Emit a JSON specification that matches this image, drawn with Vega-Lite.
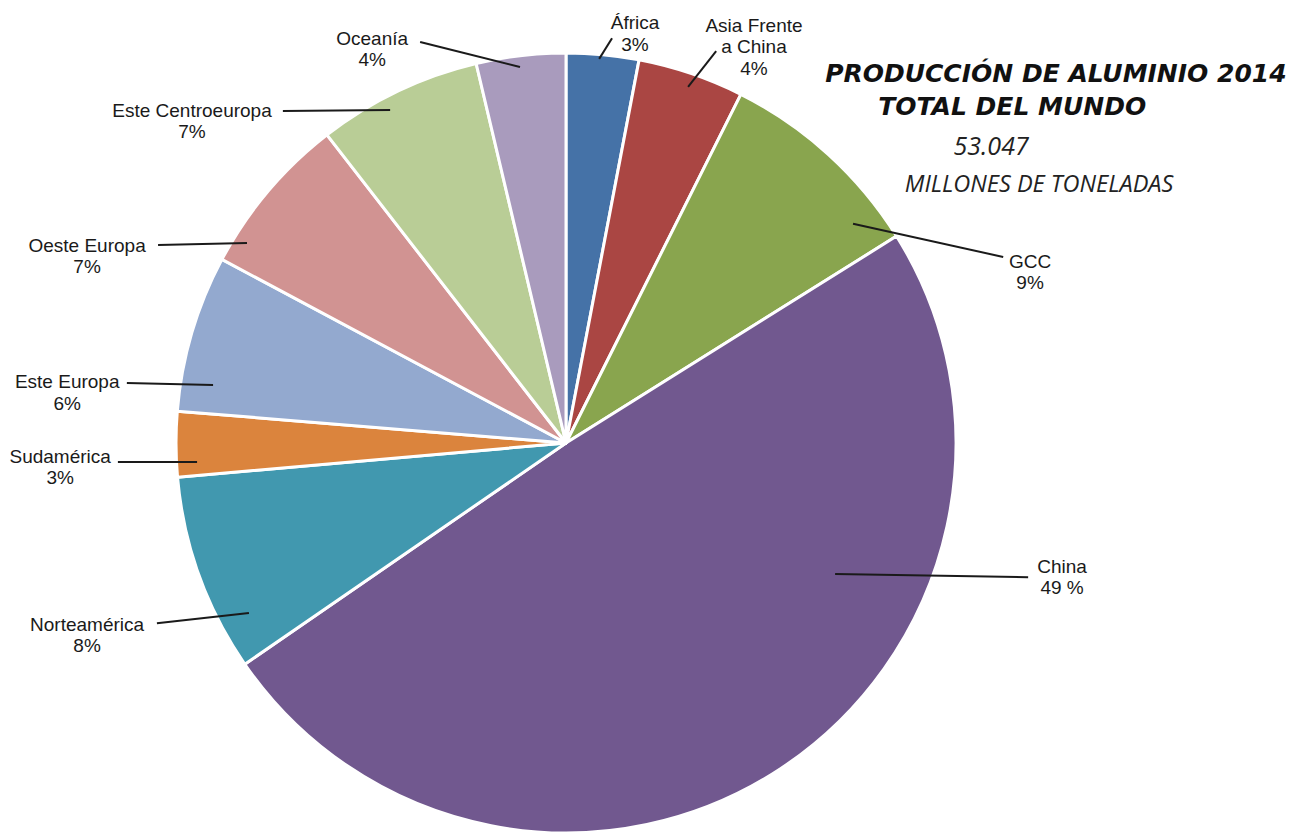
{
  "$schema": "https://vega.github.io/schema/vega-lite/v6.json",
  "width": 1301,
  "height": 834,
  "padding": 0,
  "autosize": {"type": "none"},
  "background": "white",
  "config": {"view": {"stroke": null}},
  "datasets": {
    "slices": [
      {"region": "África", "order": 1, "value": 3.0},
      {"region": "Asia Frente a China", "order": 2, "value": 4.4},
      {"region": "GCC", "order": 3, "value": 8.7},
      {"region": "China", "order": 4, "value": 49.3},
      {"region": "Norteamérica", "order": 5, "value": 8.2},
      {"region": "Sudamérica", "order": 6, "value": 2.7},
      {"region": "Este Europa", "order": 7, "value": 6.5},
      {"region": "Oeste Europa", "order": 8, "value": 6.7},
      {"region": "Este Centroeuropa", "order": 9, "value": 6.8},
      {"region": "Oceanía", "order": 10, "value": 3.7}
    ],
    "labels": [
      {"label": "África\n3%", "lx": 0.177, "ly": 1.0615, "x1": 0.118, "y1": 1.038, "x2": 0.085, "y2": 0.985},
      {"label": "Asia Frente\na China\n4%", "lx": 0.482, "ly": 1.054, "x1": 0.385, "y1": 1.005, "x2": 0.313, "y2": 0.913},
      {"label": "GCC\n9%", "lx": 1.19, "ly": 0.449, "x1": 1.121, "y1": 0.477, "x2": 0.736, "y2": 0.562},
      {"label": "China\n49 %", "lx": 1.272, "ly": -0.333, "x1": 1.185, "y1": -0.344, "x2": 0.69, "y2": -0.336},
      {"label": "Norteamérica\n8%", "lx": -1.228, "ly": -0.482, "x1": -1.049, "y1": -0.462, "x2": -0.813, "y2": -0.436},
      {"label": "Sudamérica\n3%", "lx": -1.297, "ly": -0.051, "x1": -1.149, "y1": -0.049, "x2": -0.946, "y2": -0.049},
      {"label": "Este Europa\n6%", "lx": -1.279, "ly": 0.141, "x1": -1.126, "y1": 0.154, "x2": -0.905, "y2": 0.149},
      {"label": "Oeste Europa\n7%", "lx": -1.228, "ly": 0.49, "x1": -1.046, "y1": 0.508, "x2": -0.818, "y2": 0.513},
      {"label": "Este Centroeuropa\n7%", "lx": -0.959, "ly": 0.836, "x1": -0.726, "y1": 0.851, "x2": -0.451, "y2": 0.854},
      {"label": "Oceanía\n4%", "lx": -0.497, "ly": 1.021, "x1": -0.374, "y1": 1.028, "x2": -0.118, "y2": 0.964}
    ],
    "titles": [
      {"t": "PRODUCCIÓN DE ALUMINIO 2014", "tx": 1.256, "ty": 0.926},
      {"t": "TOTAL DEL MUNDO", "tx": 1.144, "ty": 0.841}
    ],
    "total": [
      {"t": "53.047", "tx": 1.09, "ty": 0.738}
    ],
    "units": [
      {"t": "MILLONES DE TONELADAS", "tx": 1.213, "ty": 0.644}
    ]
  },
  "layer": [
    {
      "data": {"name": "slices"},
      "mark": {"type": "arc", "outerRadius": 390, "stroke": "white", "strokeWidth": 3, "strokeJoin": "round"},
      "encoding": {
        "x": {"datum": 0, "type": "quantitative", "scale": {"domain": [-1.4513, 1.8846], "nice": false, "zero": false}, "axis": null},
        "y": {"datum": 0, "type": "quantitative", "scale": {"domain": [-1.0026, 1.1359], "nice": false, "zero": false}, "axis": null},
        "theta": {"field": "value", "type": "quantitative", "stack": true},
        "order": {"field": "order", "type": "quantitative"},
        "color": {
          "field": "region", "type": "nominal", "legend": null,
          "scale": {
            "domain": ["África", "Asia Frente a China", "GCC", "China", "Norteamérica", "Sudamérica", "Este Europa", "Oeste Europa", "Este Centroeuropa", "Oceanía"],
            "range": ["#4572A7", "#AA4643", "#89A54E", "#71588F", "#4198AF", "#DB843D", "#93A9CF", "#D19392", "#B9CD96", "#A99BBD"]
          }
        }
      }
    },
    {
      "data": {"name": "labels"},
      "mark": {"type": "rule", "color": "#1a1a1a", "strokeWidth": 2},
      "encoding": {
        "x": {"field": "x1", "type": "quantitative", "scale": {"domain": [-1.4513, 1.8846], "nice": false, "zero": false}, "axis": null},
        "y": {"field": "y1", "type": "quantitative", "scale": {"domain": [-1.0026, 1.1359], "nice": false, "zero": false}, "axis": null},
        "x2": {"field": "x2"},
        "y2": {"field": "y2"}
      }
    },
    {
      "data": {"name": "labels"},
      "mark": {"type": "text", "align": "center", "baseline": "alphabetic", "lineBreak": "\n", "lineHeight": 21.5, "font": "Liberation Sans", "fontSize": 19, "fill": "#1a1a1a"},
      "encoding": {
        "x": {"field": "lx", "type": "quantitative", "axis": null},
        "y": {"field": "ly", "type": "quantitative", "axis": null},
        "text": {"field": "label", "type": "nominal"}
      }
    },
    {
      "data": {"name": "titles"},
      "mark": {"type": "text", "align": "center", "baseline": "alphabetic", "font": "DejaVu Sans", "fontWeight": "bold", "fontStyle": "italic", "fontSize": 25, "fill": "#111111"},
      "encoding": {
        "x": {"field": "tx", "type": "quantitative", "axis": null},
        "y": {"field": "ty", "type": "quantitative", "axis": null},
        "text": {"field": "t", "type": "nominal"}
      }
    },
    {
      "data": {"name": "total"},
      "mark": {"type": "text", "align": "center", "baseline": "alphabetic", "font": "Open Sans", "fontStyle": "italic", "fontSize": 25, "fill": "#222222"},
      "encoding": {
        "x": {"field": "tx", "type": "quantitative", "axis": null},
        "y": {"field": "ty", "type": "quantitative", "axis": null},
        "text": {"field": "t", "type": "nominal"}
      }
    },
    {
      "data": {"name": "units"},
      "mark": {"type": "text", "align": "center", "baseline": "alphabetic", "font": "Open Sans", "fontStyle": "italic", "fontSize": 23.5, "fill": "#222222"},
      "encoding": {
        "x": {"field": "tx", "type": "quantitative", "axis": null},
        "y": {"field": "ty", "type": "quantitative", "axis": null},
        "text": {"field": "t", "type": "nominal"}
      }
    }
  ]
}
